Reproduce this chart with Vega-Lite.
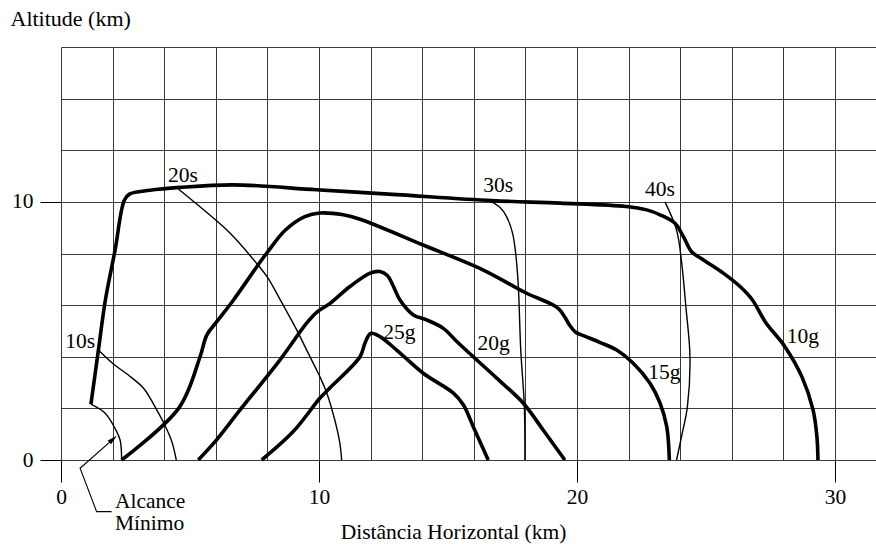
{
  "$schema": "https://vega.github.io/schema/vega-lite/v6.json",
  "width": 815,
  "height": 413,
  "autosize": {"type": "none"},
  "padding": {"left": 61, "top": 47, "right": 0, "bottom": 84},
  "background": "white",
  "config": {"view": {"stroke": null}, "font": "Liberation Serif"},
  "datasets": {
    "thick": [
      {"c":"10g","i":0,"x":1.16,"y":2.16},{"c":"10g","i":1,"x":1.45,"y":4.26},{"c":"10g","i":2,"x":1.72,"y":6.2},{"c":"10g","i":3,"x":2.09,"y":8.1},{"c":"10g","i":4,"x":2.45,"y":10.05},{"c":"10g","i":5,"x":2.65,"y":10.3},{"c":"10g","i":6,"x":3.45,"y":10.45},{"c":"10g","i":7,"x":4.61,"y":10.56},{"c":"10g","i":8,"x":6.67,"y":10.66},{"c":"10g","i":9,"x":9.9,"y":10.47},{"c":"10g","i":10,"x":13.0,"y":10.28},{"c":"10g","i":11,"x":16.7,"y":10.05},{"c":"10g","i":12,"x":19.35,"y":9.95},{"c":"10g","i":13,"x":21.9,"y":9.82},{"c":"10g","i":14,"x":22.7,"y":9.69},{"c":"10g","i":15,"x":23.22,"y":9.5},{"c":"10g","i":16,"x":23.8,"y":9.17},{"c":"10g","i":17,"x":24.12,"y":8.66},{"c":"10g","i":18,"x":24.44,"y":8.07},{"c":"10g","i":19,"x":24.9,"y":7.75},{"c":"10g","i":20,"x":25.67,"y":7.24},{"c":"10g","i":21,"x":26.32,"y":6.72},{"c":"10g","i":22,"x":26.8,"y":6.2},{"c":"10g","i":23,"x":27.3,"y":5.35},{"c":"10g","i":24,"x":28.06,"y":4.39},{"c":"10g","i":25,"x":28.72,"y":3.22},{"c":"10g","i":26,"x":29.15,"y":1.94},{"c":"10g","i":27,"x":29.3,"y":0.9},{"c":"10g","i":28,"x":29.34,"y":0},
      {"c":"15g","i":0,"x":2.35,"y":0},{"c":"15g","i":1,"x":4.58,"y":2.03},{"c":"15g","i":2,"x":5.39,"y":4.0},{"c":"15g","i":3,"x":5.65,"y":4.84},{"c":"15g","i":4,"x":6.03,"y":5.35},{"c":"15g","i":5,"x":6.65,"y":6.15},{"c":"15g","i":6,"x":7.97,"y":8.01},{"c":"15g","i":7,"x":8.7,"y":8.91},{"c":"15g","i":8,"x":9.45,"y":9.43},{"c":"15g","i":9,"x":10.04,"y":9.57},{"c":"15g","i":10,"x":10.94,"y":9.5},{"c":"15g","i":11,"x":11.59,"y":9.33},{"c":"15g","i":12,"x":14.04,"y":8.33},{"c":"15g","i":13,"x":16.37,"y":7.36},{"c":"15g","i":14,"x":18.05,"y":6.46},{"c":"15g","i":15,"x":18.95,"y":6.07},{"c":"15g","i":16,"x":19.3,"y":5.85},{"c":"15g","i":17,"x":19.55,"y":5.5},{"c":"15g","i":18,"x":19.73,"y":5.2},{"c":"15g","i":19,"x":19.95,"y":4.95},{"c":"15g","i":20,"x":20.3,"y":4.8},{"c":"15g","i":21,"x":20.9,"y":4.55},{"c":"15g","i":22,"x":21.54,"y":4.26},{"c":"15g","i":23,"x":22.18,"y":3.75},{"c":"15g","i":24,"x":22.83,"y":2.97},{"c":"15g","i":25,"x":23.22,"y":2.2},{"c":"15g","i":26,"x":23.48,"y":1.29},{"c":"15g","i":27,"x":23.58,"y":0},
      {"c":"20g","i":0,"x":5.32,"y":0},{"c":"20g","i":1,"x":6.03,"y":0.78},{"c":"20g","i":2,"x":6.94,"y":1.94},{"c":"20g","i":3,"x":8.49,"y":3.88},{"c":"20g","i":4,"x":9.52,"y":5.3},{"c":"20g","i":5,"x":9.91,"y":5.72},{"c":"20g","i":6,"x":10.43,"y":6.07},{"c":"20g","i":7,"x":11.2,"y":6.72},{"c":"20g","i":8,"x":11.98,"y":7.24},{"c":"20g","i":9,"x":12.36,"y":7.3},{"c":"20g","i":10,"x":12.65,"y":7.15},{"c":"20g","i":11,"x":12.85,"y":6.8},{"c":"20g","i":12,"x":13.14,"y":6.2},{"c":"20g","i":13,"x":13.66,"y":5.62},{"c":"20g","i":14,"x":14.17,"y":5.43},{"c":"20g","i":15,"x":14.82,"y":5.1},{"c":"20g","i":16,"x":15.34,"y":4.59},{"c":"20g","i":17,"x":15.98,"y":4.0},{"c":"20g","i":18,"x":16.89,"y":3.17},{"c":"20g","i":19,"x":17.92,"y":2.2},{"c":"20g","i":20,"x":18.69,"y":1.16},{"c":"20g","i":21,"x":19.53,"y":0},
      {"c":"25g","i":0,"x":7.78,"y":0},{"c":"25g","i":1,"x":9.0,"y":1.1},{"c":"25g","i":2,"x":10.04,"y":2.4},{"c":"25g","i":3,"x":10.43,"y":2.8},{"c":"25g","i":4,"x":11.59,"y":4.0},{"c":"25g","i":5,"x":11.78,"y":4.52},{"c":"25g","i":6,"x":12.0,"y":4.9},{"c":"25g","i":7,"x":12.36,"y":4.78},{"c":"25g","i":8,"x":13.01,"y":4.26},{"c":"25g","i":9,"x":14.04,"y":3.36},{"c":"25g","i":10,"x":15.21,"y":2.59},{"c":"25g","i":11,"x":15.6,"y":2.13},{"c":"25g","i":12,"x":15.98,"y":1.29},{"c":"25g","i":13,"x":16.56,"y":0}
    ],
    "thin": [
      {"c":"min","i":0,"x":1.16,"y":2.16},{"c":"min","i":1,"x":1.71,"y":1.81},{"c":"min","i":2,"x":2.09,"y":1.23},{"c":"min","i":3,"x":2.29,"y":0.78},{"c":"min","i":4,"x":2.35,"y":0},
      {"c":"10s","i":0,"x":1.45,"y":4.26},{"c":"10s","i":1,"x":2.03,"y":3.72},{"c":"10s","i":2,"x":2.6,"y":3.3},{"c":"10s","i":3,"x":3.2,"y":2.78},{"c":"10s","i":4,"x":3.71,"y":1.94},{"c":"10s","i":5,"x":4.05,"y":1.3},{"c":"10s","i":6,"x":4.3,"y":0.7},{"c":"10s","i":7,"x":4.47,"y":0},
      {"c":"20s","i":0,"x":4.55,"y":10.5},{"c":"20s","i":1,"x":6.03,"y":9.27},{"c":"20s","i":2,"x":6.55,"y":8.79},{"c":"20s","i":3,"x":7.58,"y":7.62},{"c":"20s","i":4,"x":8.03,"y":7.04},{"c":"20s","i":5,"x":8.5,"y":6.2},{"c":"20s","i":6,"x":9.13,"y":5.05},{"c":"20s","i":7,"x":9.6,"y":4.1},{"c":"20s","i":8,"x":10.0,"y":3.3},{"c":"20s","i":9,"x":10.3,"y":2.6},{"c":"20s","i":10,"x":10.6,"y":1.6},{"c":"20s","i":11,"x":10.8,"y":0.7},{"c":"20s","i":12,"x":10.88,"y":0},
      {"c":"30s","i":0,"x":16.63,"y":10.03},{"c":"30s","i":1,"x":17.0,"y":9.8},{"c":"30s","i":2,"x":17.27,"y":9.43},{"c":"30s","i":3,"x":17.5,"y":8.8},{"c":"30s","i":4,"x":17.6,"y":8.2},{"c":"30s","i":5,"x":17.72,"y":6.85},{"c":"30s","i":6,"x":17.82,"y":4.26},{"c":"30s","i":7,"x":17.96,"y":2.07},{"c":"30s","i":8,"x":17.98,"y":0},
      {"c":"40s","i":0,"x":23.41,"y":10.0},{"c":"40s","i":1,"x":23.86,"y":8.91},{"c":"40s","i":2,"x":24.06,"y":7.62},{"c":"40s","i":3,"x":24.22,"y":5.94},{"c":"40s","i":4,"x":24.38,"y":4.0},{"c":"40s","i":5,"x":24.28,"y":2.07},{"c":"40s","i":6,"x":24.05,"y":0.9},{"c":"40s","i":7,"x":23.86,"y":0}
    ],
    "leader": [
      {"i":0,"x":1.96,"y":-2.0},{"i":1,"x":1.38,"y":-2.0},{"i":2,"x":0.74,"y":-0.32},{"i":3,"x":2.02,"y":0.81}
    ],
    "labels": [
      {"t":"10s","x":0.16,"y":4.34},{"t":"20s","x":4.15,"y":10.78},{"t":"30s","x":16.37,"y":10.4},{"t":"40s","x":22.64,"y":10.21},
      {"t":"25g","x":12.49,"y":4.68},{"t":"20g","x":16.14,"y":4.26},{"t":"15g","x":22.76,"y":3.13},{"t":"10g","x":28.13,"y":4.52},
      {"t":"Alcance","x":2.09,"y":-1.87},{"t":"Mínimo","x":2.09,"y":-2.71}
    ]
  },
  "encoding": {
    "x": {
      "field": "x", "type": "quantitative",
      "scale": {"domain": [0, 31.59], "nice": false, "zero": false},
      "axis": {
        "values": [0,2,4,6,8,10,12,14,16,18,20,22,24,26,28,30],
        "grid": true, "gridColor": "#3a3a3a", "gridWidth": 1,
        "domain": false,
        "tickSize": 22, "tickColor": "black", "tickWidth": 1,
        "tickOpacity": {"condition": {"test": "datum.value % 10 === 0", "value": 1}, "value": 0},
        "labelExpr": "datum.value % 10 === 0 ? datum.label : ''",
        "labelFont": "Liberation Serif", "labelFontSize": 21.5, "labelColor": "black",
        "labelPadding": 4, "labelFlush": false, "labelOverlap": false,
        "title": "Distância Horizontal (km)",
        "titleFont": "Liberation Serif", "titleFontSize": 21.5, "titleFontWeight": "normal", "titleColor": "black",
        "titleX": 392, "titleY": 78, "titleBaseline": "alphabetic"
      }
    },
    "y": {
      "field": "y", "type": "quantitative",
      "scale": {"domain": [0, 16], "nice": false, "zero": false},
      "axis": {
        "values": [0,2,4,6,8,10,12,14,16],
        "grid": true, "gridColor": "#3a3a3a", "gridWidth": 1,
        "domain": false,
        "tickSize": 21, "tickColor": "black", "tickWidth": 1,
        "tickOpacity": {"condition": {"test": "datum.value % 10 === 0", "value": 1}, "value": 0},
        "labelExpr": "datum.value % 10 === 0 ? datum.label : ''",
        "labelFont": "Liberation Serif", "labelFontSize": 21.5, "labelColor": "black",
        "labelPadding": 7, "labelFlush": false, "labelOverlap": false,
        "title": "Altitude (km)",
        "titleFont": "Liberation Serif", "titleFontSize": 22, "titleFontWeight": "normal", "titleColor": "black",
        "titleAngle": 0, "titleAlign": "left", "titleBaseline": "alphabetic",
        "titleX": -51, "titleY": -22
      }
    }
  },
  "layer": [
    {
      "data": {"name": "thin"},
      "mark": {"type": "line", "color": "black", "strokeWidth": 1.4, "strokeJoin": "round", "interpolate": "catmull-rom"},
      "encoding": {"detail": {"field": "c"}, "order": {"field": "i", "type": "quantitative"}}
    },
    {
      "data": {"name": "thick"},
      "mark": {"type": "line", "color": "black", "strokeWidth": 3.6, "strokeJoin": "round", "strokeCap": "butt", "interpolate": "catmull-rom"},
      "encoding": {"detail": {"field": "c"}, "order": {"field": "i", "type": "quantitative"}}
    },
    {
      "data": {"name": "leader"},
      "mark": {"type": "line", "color": "black", "strokeWidth": 1.1},
      "encoding": {"order": {"field": "i", "type": "quantitative"}}
    },
    {
      "data": {"values": [{"x": 2.02, "y": 0.81}]},
      "mark": {"type": "point", "shape": "M0,-1L0.5,1L-0.5,1Z", "size": 100, "angle": 48.5, "filled": true, "color": "black", "opacity": 1}
    },
    {
      "data": {"name": "labels"},
      "mark": {"type": "text", "align": "left", "baseline": "alphabetic", "font": "Liberation Serif", "fontSize": 21.5, "color": "black"},
      "encoding": {"text": {"field": "t"}}
    }
  ]
}
